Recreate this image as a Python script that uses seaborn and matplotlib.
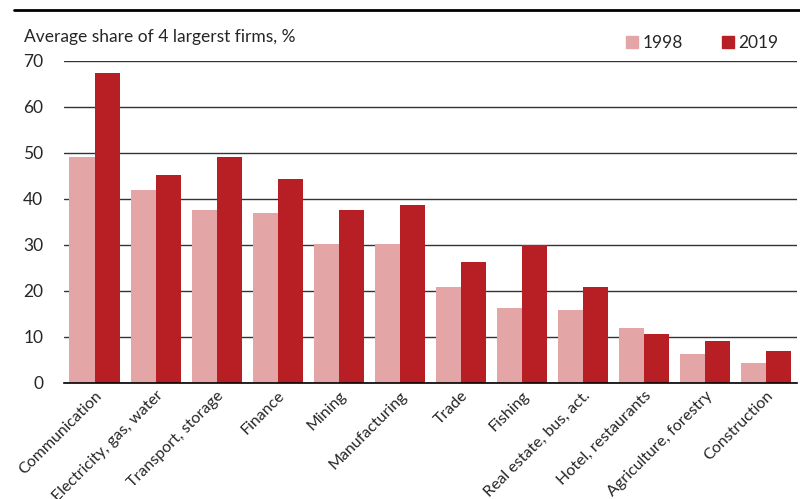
import seaborn as sns
import matplotlib.pyplot as plt
import pandas as pd
from matplotlib.lines import Line2D

# Data
sectors = ['Communication', 'Electricity, gas, water', 'Transport, storage', 'Finance',
           'Mining', 'Manufacturing', 'Trade', 'Fishing', 'Real estate, bus, act.',
           'Hotel, restaurants', 'Agriculture, forestry', 'Construction']
share_1998 = [49.1, 42.0, 37.6, 37.0, 30.1, 30.1, 20.9, 16.3, 15.8, 12.0, 6.2, 4.4]
share_2019 = [67.4, 45.3, 49.1, 44.3, 37.5, 38.6, 26.2, 29.9, 20.9, 10.7, 9.2, 7.0]
years = ['1998', '2019']

df = pd.DataFrame({
    'Sector': sectors * 2,
    'Year': [years[0]] * len(sectors) + [years[1]] * len(sectors),
    'Share': share_1998 + share_2019,
})

colors = {'1998': '#E4A5A7', '2019': '#B81F24'}

sns.set_style("white")
plt.rcParams['font.family'] = ['Lato', 'DejaVu Sans']

fig = plt.figure(figsize=(8, 4.99), dpi=100)
ax = fig.add_axes([0.08, 0.2325, 0.916, 0.6455])

sns.barplot(data=df, x='Sector', y='Share', hue='Year', palette=colors,
            width=0.82, saturation=1, ax=ax, legend=False,
            edgecolor='none', linewidth=0)

ax.set_ylim(0, 70)
ax.set_xlim(-0.5, len(sectors) - 0.5)
ax.set_yticks(range(0, 71, 10))
ax.yaxis.grid(True, color='#333333', linewidth=1)
ax.set_axisbelow(True)
for s in ['top', 'right', 'left']:
    ax.spines[s].set_visible(False)
ax.spines['bottom'].set_color('black')
ax.spines['bottom'].set_linewidth(1.2)
ax.set_xlabel('')
ax.set_ylabel('')
ax.tick_params(axis='y', length=0, pad=15, labelsize=12.5)
ax.tick_params(axis='x', length=0, pad=4, labelsize=11.5)
plt.setp(ax.get_xticklabels(), rotation=45, ha='right', rotation_mode='anchor')

fig.text(0.03, 0.925, 'Average share of 4 largerst firms, %', fontsize=12.5,
         va='center', ha='left')

handles = [Line2D([], [], marker='s', linestyle='none', markersize=9,
                  color=colors[y]) for y in years]
fig.legend(handles, years, loc='center right', bbox_to_anchor=(0.993, 0.913),
           ncol=2, frameon=False, fontsize=12.5, handletextpad=0.1,
           columnspacing=2.1, handlelength=1.0)

# top rule
fig.add_artist(Line2D([0.018, 1.0], [0.98, 0.98], color='black', linewidth=2,
                      transform=fig.transFigure))

plt.savefig('out.png', dpi=100)
